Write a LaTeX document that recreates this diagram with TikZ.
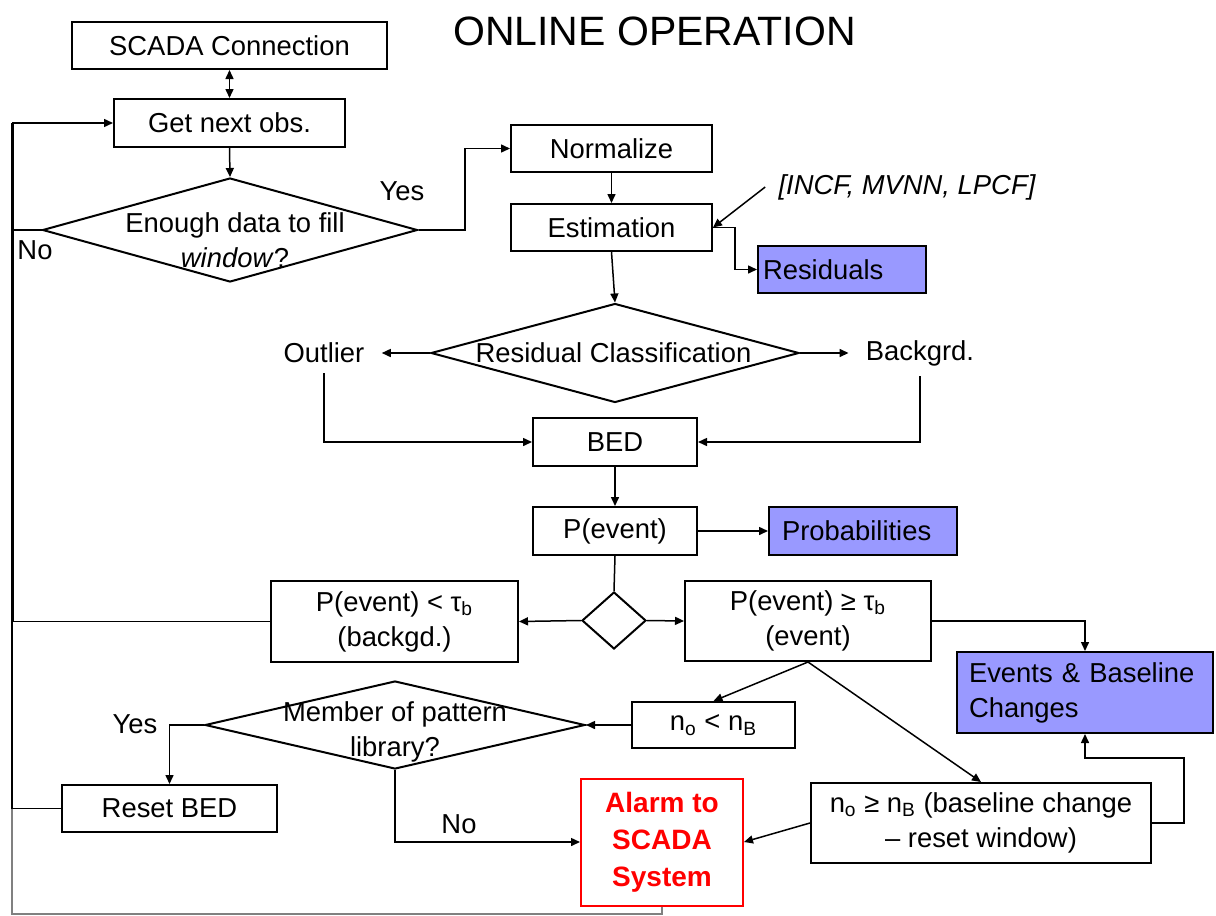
\documentclass[tikz,border=0pt]{standalone}
\usepackage{fontspec}
\setmainfont{Liberation Sans}
\usetikzlibrary{arrows.meta,shapes.geometric}
\definecolor{boxblue}{RGB}{153,153,255}
\definecolor{alarmred}{RGB}{255,0,0}
\begin{document}
\begin{tikzpicture}[x=0.5pt,y=-0.5pt,
  every node/.style={font=\fontsize{13.7}{17.5}\selectfont},
  box/.style={draw, line width=1pt, inner sep=0pt, align=center},
  dia/.style={draw, diamond, line width=1pt, inner sep=0pt},
  bluebox/.style={draw, line width=1pt, fill=boxblue, align=left, inner ysep=0pt},
  conn/.style={line width=0.75pt},
  arr/.style={conn, -{Triangle[length=4.5pt,width=4pt]}},
  lbl/.style={inner sep=0pt, align=center}
]
\useasboundingbox (0,0) rectangle (1216,916);

% title
\node[font=\fontsize{20.5}{24}\selectfont] (title) at (654.5,31) {ONLINE OPERATION};

% top column
\node[box, minimum width=157.5pt, minimum height=23.5pt] (scada) at (229.5,45.5) {SCADA Connection};
\node[box, minimum width=115.5pt, minimum height=24pt] (get) at (229.5,123) {Get next obs.};
\node[dia, minimum width=187.5pt, minimum height=52pt] (enough) at (230,230) {};
\node[lbl] (enoughtxt) at (235,240) {Enough data to fill\\\textit{window}?};
\node[lbl] (yes1) at (402,191) {Yes};
\node[lbl] (no1) at (35,250) {No};

% right column
\node[box, minimum width=100.5pt, minimum height=23.5pt] (norm) at (611.5,148.5) {Normalize};
\node[box, minimum width=100.5pt, minimum height=23.5pt] (est) at (611.5,227.5) {Estimation};
\node[inner xsep=6.5pt, font=\fontsize{13.7}{17.5}\selectfont\itshape] (incf) at (907,187) {[INCF, MVNN, LPCF]};
\node[bluebox, minimum height=23.5pt, inner xsep=2.5pt, text width=79pt] (res) at (842,269.5) {Residuals};

\node[dia, minimum width=184pt, minimum height=49.5pt] (rc) at (615,353) {};
\node[lbl] (rctxt) at (613.5,353) {Residual Classification};
\node[inner xsep=8.5pt, inner ysep=5pt] (outlier) at (324,353) {Outlier};
\node[inner xsep=8.5pt, inner ysep=5pt] (backgrd) at (920,353) {Backgrd.};

\node[box, minimum width=82pt, minimum height=24pt] (bed) at (615,442) {BED};
\node[box, minimum width=82pt, minimum height=24pt] (pevent) at (615,531) {P(event)};
\node[bluebox, minimum height=24pt, inner xsep=6.5pt, text width=81pt] (prob) at (863,531) {Probabilities};

\node[dia, minimum width=32pt, minimum height=28.5pt] (sd) at (614,620.5) {};
\node[box, minimum width=123.5pt, minimum height=40.5pt] (plow) at (394.5,621.5) {P(event) < τ\textsubscript{b}\\(backgd.)};
\node[box, minimum width=123pt, minimum height=40pt] (phigh) at (808,621) {P(event) ≥ τ\textsubscript{b}\\(event)};
\node[bluebox, minimum height=40.5pt, inner xsep=6pt, text width=116pt] (events) at (1085,692.5) {Events \& Baseline\\Changes};

\node[dia, minimum width=190pt, minimum height=44pt] (member) at (395,725) {};
\node[lbl] (membertxt) at (395,732) {Member of pattern\\library?};
\node[box, minimum width=81.5pt, minimum height=23pt] (nlow) at (713.5,725) {n\textsubscript{o} < n\textsubscript{B}};
\node[lbl] (yes2) at (135,724) {Yes};
\node[box, minimum width=107.5pt, minimum height=23.5pt] (reset) at (169.5,808.5) {Reset BED};
\node[lbl] (no2) at (459,824) {No};
\node[box, minimum width=170pt, minimum height=40pt] (nhigh) at (981,823) {n\textsubscript{o} ≥ n\textsubscript{B} (baseline change\\– reset window)};
\node[box, draw=alarmred, text=alarmred, minimum width=81pt, minimum height=63.5pt,
      font=\fontsize{14}{18.5}\selectfont\bfseries] (alarm) at (662,842) {Alarm to\\SCADA\\System};

% coordinates
\coordinate (yescorner) at (465,230);
\coordinate (rescorner) at (735,227.5);
\coordinate (lefttop) at (12,123);
\coordinate (leftbot) at (12,914);

% connectors
\draw[conn, {Triangle[length=4.5pt,width=4pt]}-{Triangle[length=4.5pt,width=4pt]}] (scada.south) -- (get.north);
\draw[arr] (get.south) -- (enough.north);
\draw[arr] (enough.east) -- (yescorner) |- (norm.west);
\draw[arr] (norm.south) -- (est.north);
\draw[arr] (incf.west) -- (est.east);
\draw[arr] (est.east) -- (rescorner) |- (res.west);
\draw[arr] (est.south) -- (rc.north);
\draw[arr] (rc.west) -- (outlier.east);
\draw[arr] (rc.east) -- (backgrd.west);
\draw[arr] (outlier.south) |- (bed.west);
\draw[arr] (backgrd.south) |- (bed.east);
\draw[arr] (bed.south) -- (pevent.north);
\draw[arr] (pevent.east) -- (prob.west);
\draw[conn] (pevent.south) -- (sd.north);
\draw[arr] (sd.west) -- (plow.east);
\draw[arr] (sd.east) -- (phigh.west);
\draw[arr] (phigh.east) -| (events.north);
\draw[arr] (phigh.south) -- (nlow.north);
\draw[arr] (phigh.south) -- (nhigh.north);
\draw[arr] (nlow.west) -- (member.east);
\draw[arr] (member.west) -| (reset.north);
\draw[arr] (member.south) |- (alarm.west);
\draw[arr] (nhigh.west) -- (alarm.east);
\draw[arr] (nhigh.east) -- ++(32,0) -- ++(0,-65) -| (events.south);

% feedback loop on the left
\draw[conn] (enough.west) -- (enough.west -| lefttop);
\draw[conn] (plow.west) -- (plow.west -| lefttop);
\draw[line width=1.5pt] (plow.west -| lefttop) -- (lefttop);
\draw[arr] (lefttop) -- (get.west);
\draw[conn] (plow.west -| lefttop) -- (reset.west -| lefttop) -- (reset.west);
\draw[conn, gray] (alarm.south) -- (alarm.south |- leftbot) -- (leftbot) -- (reset.west -| leftbot);
\end{tikzpicture}
\end{document}
